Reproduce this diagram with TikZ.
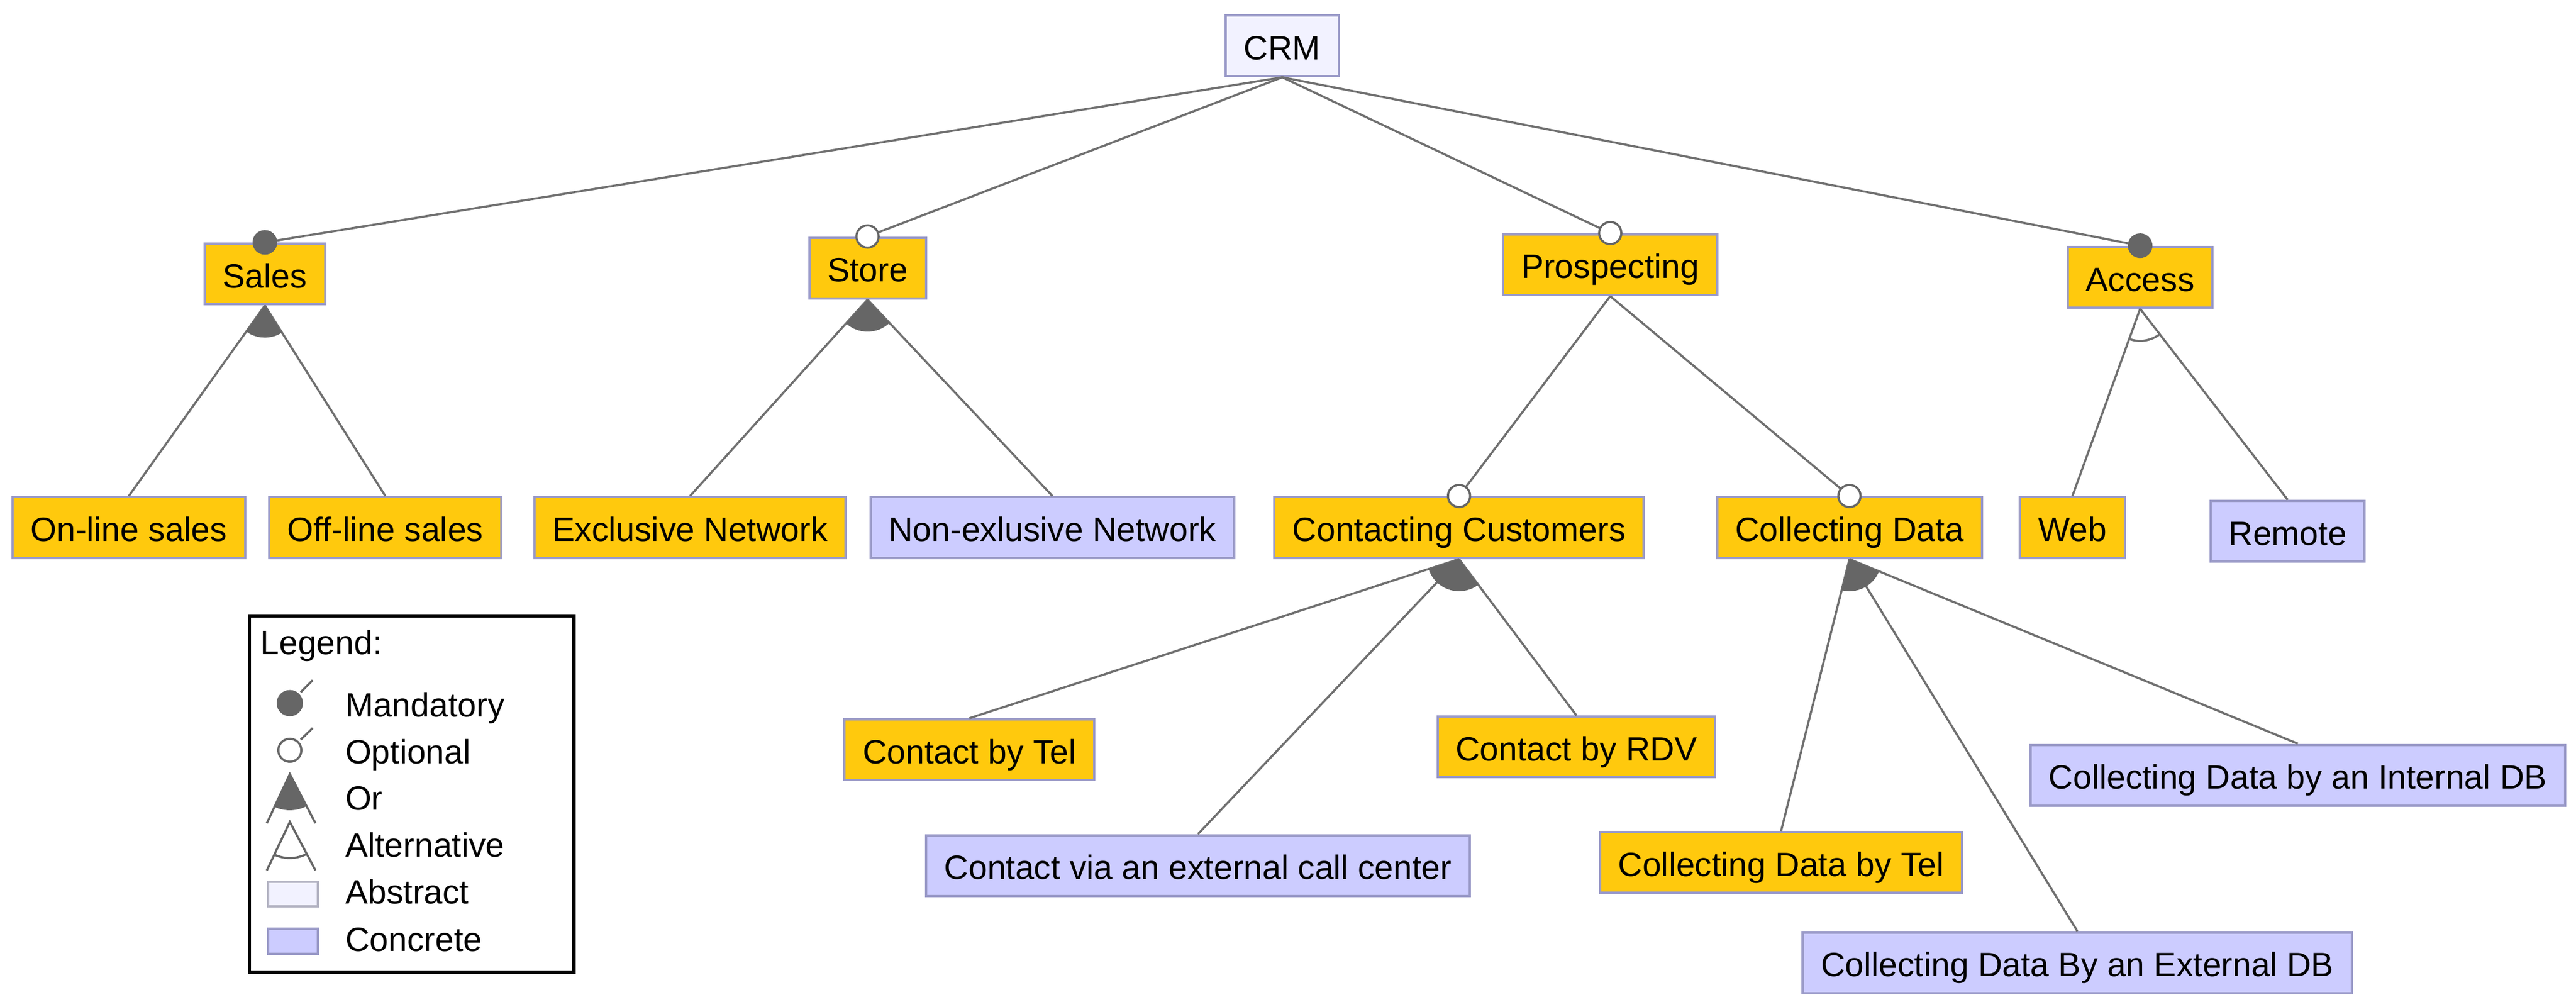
\documentclass[tikz,border=0pt]{standalone}
\usepackage{fontspec}
\setmainfont{Liberation Sans}
\usepackage{tikz}
\usetikzlibrary{calc}
\definecolor{fyellow}{RGB}{255, 201, 13}
\definecolor{fconc}{RGB}{204, 204, 255}
\definecolor{fabst}{RGB}{242, 242, 255}
\definecolor{fborder}{RGB}{154, 154, 200}
\definecolor{lborder}{RGB}{180, 180, 195}
\definecolor{mgray}{RGB}{102, 102, 102}
\definecolor{lgray}{RGB}{112, 112, 112}
\tikzset{feat/.style = {draw = fborder, line width = 1.4pt, fill = fyellow, minimum height = 37pt, inner xsep = 11pt, inner ysep = 0pt, text height = 16.8pt, text depth = 0pt, font = \fontsize{20.5}{24}\selectfont}}
\tikzset{conc/.style = {feat, fill = fconc}}
\tikzset{abst/.style = {feat, fill = fabst}}
\tikzset{edge/.style = {lgray, line width = 1.3pt}}
\tikzset{grp/.style = {fill = mgray}}
\tikzset{mand/.style = {fill = mgray, circle, inner sep = 0, minimum size = 15pt}}
\tikzset{opt/.style = {draw = mgray, fill = white, line width = 1.3pt, circle, inner sep = 0, minimum size = 13.5pt}}
\tikzset{legtext/.style = {font = \fontsize{20.5}{24}\selectfont, inner sep = 0, anchor = base west}}

\begin{document}
\begin{tikzpicture}[x=1pt, y=-1pt]
    \useasboundingbox (0, 0) rectangle (1567.8, 612.4);

    \node [abst] (crm) at (780.4, 27.8) {CRM};

    \node [feat] (sales) at (161.2, 166.7) {Sales};
    \node [feat] (store) at (528, 163.1) {Store};
    \node [feat] (prosp) at (980, 161) {Prospecting};
    \node [feat] (access) at (1302.5, 168.7) {Access};

    \node [feat] (online) at (78.4, 321) {On-line sales};
    \node [feat] (offline) at (234.5, 321) {Off-line sales};
    \node [feat] (excl) at (420, 321) {Exclusive Network};
    \node [conc] (nonexcl) at (640.5, 321) {Non-exlusive Network};
    \node [feat] (contact) at (888, 321) {Contacting Customers};
    \node [feat] (collect) at (1125.6, 321) {Collecting Data};
    \node [feat] (web) at (1261.3, 321) {Web};
    \node [conc] (remote) at (1392.3, 323.3) {Remote};

    \node [feat] (cbytel) at (590, 456.2) {Contact by Tel};
    \node [feat] (cbyrdv) at (959.4, 454.5) {Contact by RDV};
    \node [conc] (cvia) at (729.1, 526.7) {Contact via an external call center};
    \node [feat] (cdtel) at (1084, 524.8) {Collecting Data by Tel};
    \node [conc] (cdint) at (1398.5, 471.7) {Collecting Data by an Internal DB};
    \node [conc] (cdext) at (1264.3, 585.8) {Collecting Data By an External DB};

    % edges
    \draw [edge] (crm.south) -- (sales.north);
    \draw [edge] (crm.south) -- (store.north);
    \draw [edge] (crm.south) -- (prosp.north);
    \draw [edge] (crm.south) -- (access.north);

    \draw [edge] (sales.south) -- (online.north);
    \draw [edge] (sales.south) -- (offline.north);
    \draw [edge] (store.south) -- (excl.north);
    \draw [edge] (store.south) -- (nonexcl.north);
    \draw [edge] (prosp.south) -- (contact.north);
    \draw [edge] (prosp.south) -- (collect.north);
    \draw [edge] (access.south) -- (web.north);
    \draw [edge] (access.south) -- (remote.north);

    \draw [edge] (contact.south) -- (cbytel.north);
    \draw [edge] (contact.south) -- (cvia.north);
    \draw [edge] (contact.south) -- (cbyrdv.north);
    \draw [edge] (collect.south) -- (cdtel.north);
    \draw [edge] (collect.south) -- (cdext.north);
    \draw [edge] (collect.south) -- (cdint.north);

    % groups
    \fill [grp] let \p1 = ($(online.north)-(sales.south)$), \p2 = ($(offline.north)-(sales.south)$),
        \n1 = {atan2(\y1, \x1)}, \n2 = {atan2(\y2, \x2)} in
        (sales.south) -- ++(\n1:19.5pt) arc [start angle=\n1, end angle=\n2, radius=19.5pt] -- cycle;
    \fill [grp] let \p1 = ($(excl.north)-(store.south)$), \p2 = ($(nonexcl.north)-(store.south)$),
        \n1 = {atan2(\y1, \x1)}, \n2 = {atan2(\y2, \x2)} in
        (store.south) -- ++(\n1:19.5pt) arc [start angle=\n1, end angle=\n2, radius=19.5pt] -- cycle;
    \fill [grp] let \p1 = ($(cbytel.north)-(contact.south)$), \p2 = ($(cbyrdv.north)-(contact.south)$),
        \n1 = {atan2(\y1, \x1)}, \n2 = {atan2(\y2, \x2)} in
        (contact.south) -- ++(\n1:19.5pt) arc [start angle=\n1, end angle=\n2, radius=19.5pt] -- cycle;
    \fill [grp] let \p1 = ($(cdtel.north)-(collect.south)$), \p2 = ($(cdint.north)-(collect.south)$),
        \n1 = {atan2(\y1, \x1)}, \n2 = {atan2(\y2, \x2)} in
        (collect.south) -- ++(\n1:19.5pt) arc [start angle=\n1, end angle=\n2, radius=19.5pt] -- cycle;
    \draw [edge] let \p1 = ($(web.north)-(access.south)$), \p2 = ($(remote.north)-(access.south)$),
        \n1 = {atan2(\y1, \x1)}, \n2 = {atan2(\y2, \x2)} in
        (access.south) ++(\n1:19.5pt) arc [start angle=\n1, end angle=\n2, radius=19.5pt];

    % mandatory / optional
    \node [mand] (salesdot) at (sales.north) {};
    \node [opt] (storedot) at (store.north) {};
    \node [opt] (prospdot) at (prosp.north) {};
    \node [mand] (accessdot) at (access.north) {};
    \node [opt] (contactdot) at (contact.north) {};
    \node [opt] (collectdot) at (collect.north) {};

    % legend
    \draw [line width=2pt] (151.9, 374.6) rectangle (349.4, 591.5);
    \node [legtext] (leghead) at (158.3, 398.2) {Legend:};
    \node [legtext] (legmand) at (210, 436) {Mandatory};
    \node [legtext] (legopt) at (210, 464.7) {Optional};
    \node [legtext] (legor) at (210, 492.7) {Or};
    \node [legtext] (legalt) at (210, 521.4) {Alternative};
    \node [legtext] (legabst) at (210, 550) {Abstract};
    \node [legtext] (legconc) at (210, 578.9) {Concrete};

    \fill [mgray] (176.4, 427.8) circle [radius=8pt];
    \draw [edge, mgray] (183, 421.2) -- (190.3, 413.9);
    \draw [edge, mgray, fill=white] (176.4, 456.5) circle [radius=7pt];
    \draw [edge, mgray] (183, 450) -- (190.3, 443);

    \coordinate (lor) at (176.4, 471);
    \draw [edge, mgray] (162.4, 500.9) -- (lor) -- (192, 500.9);
    \fill [grp] (lor) -- ++(-115:22pt) arc [start angle=-115, end angle=-62, radius=22pt] -- cycle;
    \coordinate (lalt) at (176.4, 500.1);
    \draw [edge, mgray] (162.4, 529.6) -- (lalt) -- (192, 529.6);
    \draw [edge, mgray] (lalt) ++(-115:22pt) arc [start angle=-115, end angle=-62, radius=22pt];

    \draw [line width=1.4pt, draw=lborder, fill=fabst] (163.1, 536.4) rectangle (193.4, 551.4);
    \draw [line width=1.4pt, draw=fborder, fill=fconc] (163.1, 565.1) rectangle (193.4, 580.2);
\end{tikzpicture}
\end{document}
